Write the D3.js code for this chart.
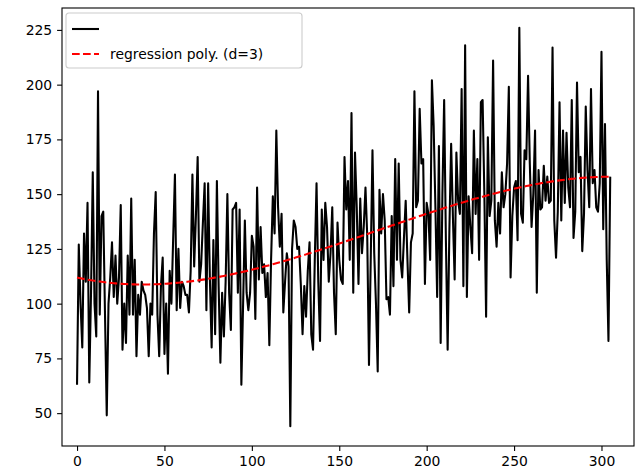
<!DOCTYPE html>
<html>
<head>
<meta charset="utf-8">
<script src="https://cdn.jsdelivr.net/npm/d3@7"></script>
<style>
  body { margin: 0; background: #fff; }
  svg text { font-family: "DejaVu Sans", sans-serif; }
</style>
</head>
<body>
<svg id="chart"></svg>
<script>
// values, one per x step (0..305)
var series = [
  63, 127, 100, 80, 132, 110, 146, 64, 105, 160,
  100, 85, 197, 95, 140, 142, 95, 49, 100, 112,
  128, 103, 122, 100, 112, 145, 79, 100, 82, 122,
  95, 148, 95, 120, 76, 104, 95, 110, 106, 104,
  98, 76, 100, 95, 132, 151, 95, 76, 108, 121,
  77, 100, 68, 115, 100, 130, 159, 97, 125, 98,
  110, 108, 104, 104, 96, 115, 159, 117, 140, 167,
  110, 118, 137, 155, 97, 155, 111, 80, 129, 86,
  156, 108, 73, 105, 85, 110, 150, 105, 88, 143,
  144, 146, 105, 143, 63, 100, 138, 105, 97, 105,
  131, 126, 93, 153, 111, 135, 114, 118, 103, 114,
  81, 120, 149, 132, 179, 144, 126, 141, 96, 110,
  123, 117, 44, 125, 138, 135, 125, 126, 109, 86,
  108, 94, 115, 128, 86, 79, 120, 155, 110, 83,
  143, 120, 146, 135, 110, 123, 144, 105, 86, 137,
  120, 111, 109, 167, 143, 156, 120, 187, 105, 169,
  144, 109, 148, 123, 135, 153, 131, 72, 120, 170,
  123, 100, 69, 152, 132, 150, 138, 102, 103, 95,
  140, 108, 166, 120, 164, 120, 112, 130, 147, 120,
  96, 128, 132, 197, 144, 147, 189, 164, 166, 109,
  146, 141, 120, 202, 181, 144, 103, 172, 82, 150,
  193, 129, 79, 134, 173, 140, 111, 169, 147, 141,
  198, 108, 218, 103, 149, 135, 123, 179, 141, 166,
  120, 192, 193, 150, 94, 176, 140, 147, 211, 138,
  126, 146, 132, 160, 144, 150, 164, 199, 112, 140,
  153, 156, 129, 226, 141, 137, 170, 166, 204, 164,
  135, 150, 179, 105, 161, 143, 144, 163, 147, 158,
  146, 147, 217, 138, 121, 142, 192, 138, 179, 146,
  178, 153, 144, 193, 130, 142, 201, 160, 167, 124,
  141, 190, 161, 144, 198, 155, 161, 144, 142, 155,
  215, 134, 182, 120, 83, 158
];
var xTicks = [0, 50, 100, 150, 200, 250, 300];
var yTicks = [50, 75, 100, 125, 150, 175, 200, 225];
var legendLabels = ["", "regression poly. (d=3)"];

var width = 635;
var height = 473;
var margin = { top: 8, right: 1, bottom: 27, left: 62 };

var svg = d3.select("#chart").attr("width", width).attr("height", height);

var x = d3.scaleLinear()
    .domain([-8.6, 318.6])
    .range([margin.left, width - margin.right]);
var y = d3.scaleLinear()
    .domain([35, 235])
    .range([height - margin.bottom, margin.top]);

// least squares cubic fit of the series
function polyFit(xs, ys, deg) {
    var n = deg + 1;
    var A = [];
    for (var r = 0; r < n; r++) {
        A.push(new Array(n + 1).fill(0));
    }
    xs.forEach(function(xv, k) {
        var t = xv / 300;
        for (var r = 0; r < n; r++) {
            for (var c = 0; c < n; c++) {
                A[r][c] += Math.pow(t, r + c);
            }
            A[r][n] += Math.pow(t, r) * ys[k];
        }
    });
    for (var i = 0; i < n; i++) {
        var p = i;
        for (var j = i + 1; j < n; j++) {
            if (Math.abs(A[j][i]) > Math.abs(A[p][i])) p = j;
        }
        var tmp = A[i]; A[i] = A[p]; A[p] = tmp;
        for (var j = i + 1; j < n; j++) {
            var f = A[j][i] / A[i][i];
            for (var c = i; c <= n; c++) A[j][c] -= f * A[i][c];
        }
    }
    var coef = new Array(n).fill(0);
    for (var i = n - 1; i >= 0; i--) {
        var s = A[i][n];
        for (var c = i + 1; c < n; c++) s -= A[i][c] * coef[c];
        coef[i] = s / A[i][i];
    }
    return function(xv) {
        var t = xv / 300;
        return coef.reduce(function(acc, cf, k) { return acc + cf * Math.pow(t, k); }, 0);
    };
}

var xs = series.map(function(d, i) { return i; });
var fit = polyFit(xs, series, 3);

var line = d3.line()
    .x(function(d) { return x(d[0]); })
    .y(function(d) { return y(d[1]); });

svg.append("path")
    .datum(series.map(function(d, i) { return [i, d]; }))
    .attr("d", line)
    .attr("fill", "none")
    .attr("stroke", "#000")
    .attr("stroke-width", 2.08)
    .attr("stroke-linejoin", "round");

svg.append("path")
    .datum(xs.map(function(i) { return [i, fit(i)]; }))
    .attr("d", line)
    .attr("fill", "none")
    .attr("stroke", "red")
    .attr("stroke-width", 2.08)
    .attr("stroke-dasharray", "7.7,3.3");

// axes
var xAxis = svg.append("g")
    .attr("transform", "translate(0," + (height - margin.bottom) + ")")
    .call(d3.axisBottom(x).tickValues(xTicks).tickSize(4.9).tickPadding(4.9));
var yAxis = svg.append("g")
    .attr("transform", "translate(" + margin.left + ",0)")
    .call(d3.axisLeft(y).tickValues(yTicks).tickSize(4.9).tickPadding(4.9));

[xAxis, yAxis].forEach(function(g) {
    g.select(".domain").remove();
    g.selectAll("text")
        .attr("font-family", "DejaVu Sans, sans-serif")
        .attr("font-size", "13.9px")
        .attr("fill", "#000");
    g.selectAll("line").attr("stroke", "#000").attr("stroke-width", 1.1);
});

svg.append("rect")
    .attr("x", margin.left)
    .attr("y", margin.top)
    .attr("width", width - margin.left - margin.right)
    .attr("height", height - margin.top - margin.bottom)
    .attr("fill", "none")
    .attr("stroke", "#000")
    .attr("stroke-width", 1.1);

// legend
var legend = svg.append("g").attr("transform", "translate(66,13)");
legend.append("rect")
    .attr("width", 236)
    .attr("height", 55)
    .attr("rx", 3)
    .attr("fill", "#fff")
    .attr("fill-opacity", 0.8)
    .attr("stroke", "#ccc")
    .attr("stroke-width", 1.1);

var entries = legend.selectAll(".entry")
    .data(legendLabels)
    .enter()
    .append("g")
    .attr("class", "entry")
    .attr("transform", function(d, i) { return "translate(0," + (16 + i * 25) + ")"; });

entries.append("line")
    .attr("x1", 6)
    .attr("x2", 33)
    .attr("stroke", function(d, i) { return i === 0 ? "#000" : "red"; })
    .attr("stroke-width", 2.08)
    .attr("stroke-dasharray", function(d, i) { return i === 0 ? null : "7.7,3.3"; });

entries.append("text")
    .attr("x", 44)
    .attr("dy", "0.35em")
    .attr("font-size", "13.9px")
    .attr("fill", "#000")
    .text(function(d) { return d; });
</script>
</body>
</html>
